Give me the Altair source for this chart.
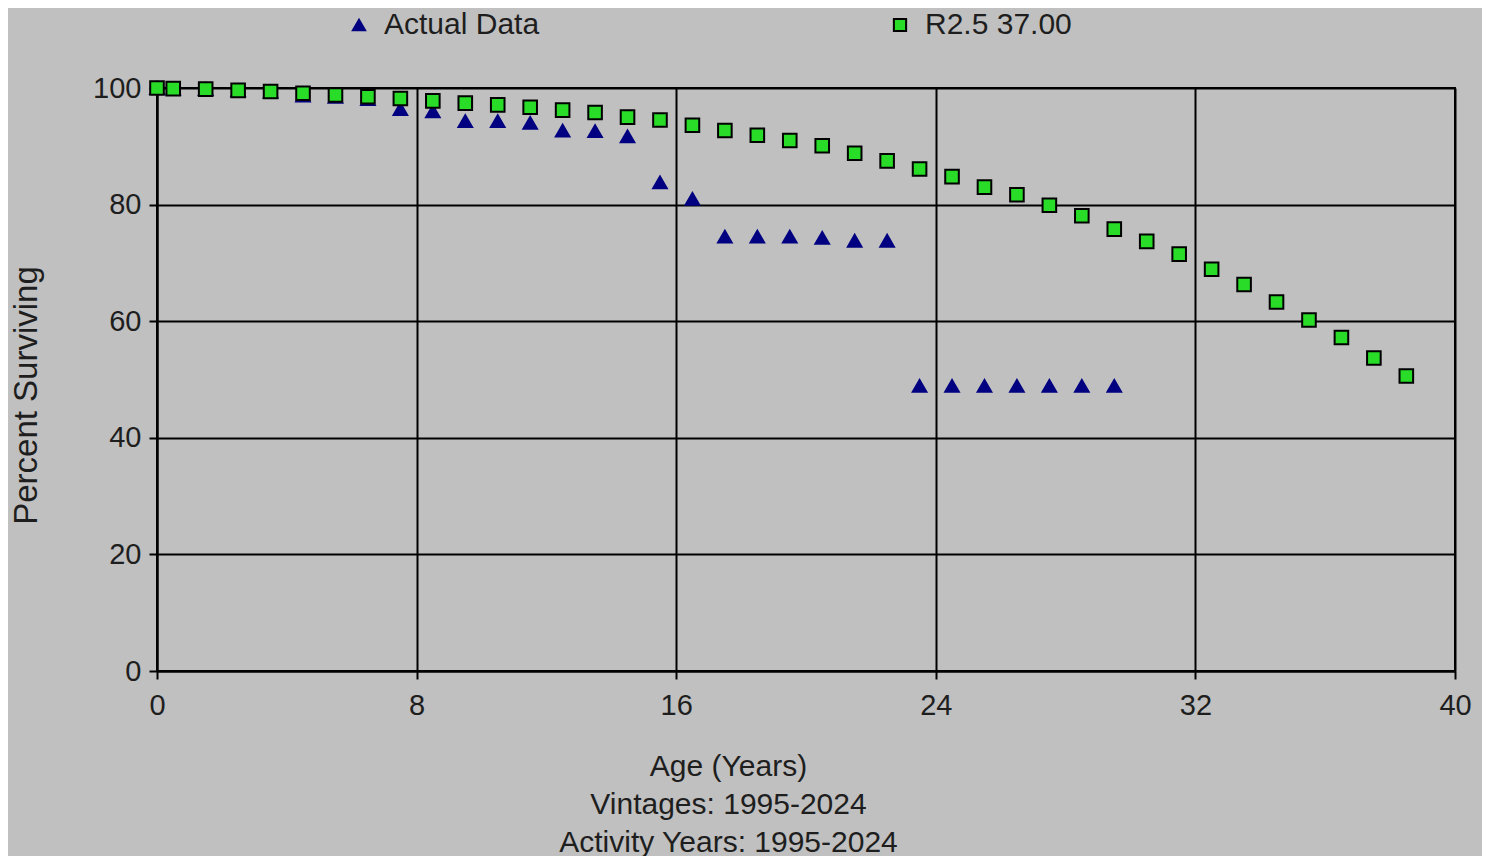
import altair as alt
import pandas as pd

# ---- data ----
actual_age = [0, 0.5, 1.5, 2.5, 3.5, 4.5, 5.5, 6.5, 7.5, 8.5, 9.5, 10.5, 11.5, 12.5, 13.5,
              14.5, 15.5, 16.5, 17.5, 18.5, 19.5, 20.5, 21.5, 22.5, 23.5, 24.5, 25.5,
              26.5, 27.5, 28.5, 29.5]
actual_pct = [100.0, 99.9, 99.8, 99.6, 99.4, 98.7, 98.5, 98.1, 96.4, 96.0, 94.3, 94.3, 94.0,
              92.7, 92.6, 91.7, 83.8, 81.0, 74.5, 74.5, 74.5, 74.3, 73.8, 73.8, 48.9, 48.9,
              48.9, 48.9, 48.9, 48.9, 48.9]

model_age = [0, 0.5, 1.5, 2.5, 3.5, 4.5, 5.5, 6.5, 7.5, 8.5, 9.5, 10.5, 11.5, 12.5, 13.5,
             14.5, 15.5, 16.5, 17.5, 18.5, 19.5, 20.5, 21.5, 22.5, 23.5, 24.5, 25.5, 26.5,
             27.5, 28.5, 29.5, 30.5, 31.5, 32.5, 33.5, 34.5, 35.5, 36.5, 37.5, 38.5]
model_pct = [100.0, 99.9, 99.8, 99.6, 99.4, 99.1, 98.8, 98.5, 98.2, 97.8, 97.4, 97.1, 96.7,
             96.2, 95.8, 95.0, 94.5, 93.6, 92.7, 91.9, 91.0, 90.1, 88.8, 87.5, 86.1, 84.8,
             83.0, 81.7, 79.9, 78.1, 75.8, 73.7, 71.5, 68.9, 66.3, 63.3, 60.2, 57.2, 53.7,
             50.6]

series_names = ["Actual Data", "R2.5 37.00"]
x_ticks = [0, 8, 16, 24, 32, 40]
y_ticks = [0, 20, 40, 60, 80, 100]
x_title = ["Age (Years)", "Vintages: 1995-2024", "Activity Years: 1995-2024"]
y_title = "Percent Surviving"

df = pd.concat([
    pd.DataFrame({"age": actual_age, "pct": actual_pct, "series": series_names[0]}),
    pd.DataFrame({"age": model_age, "pct": model_pct, "series": series_names[1]}),
], ignore_index=True)

FONT = "Liberation Sans"
TXT = "#1e1e1e"
BG = "#C0C0C0"

legend = alt.Legend(title=None, orient="none", direction="horizontal",
                    legendX=187, legendY=-78, columnPadding=345,
                    labelFontSize=30, labelFont=FONT, labelColor=TXT,
                    labelOffset=10, symbolSize=150, symbolStrokeWidth=2)

points = alt.Chart(df).mark_point(filled=True, strokeWidth=2, opacity=1, size=185).encode(
    x=alt.X("age:Q",
            scale=alt.Scale(domain=[0, 40], nice=False, zero=False),
            axis=alt.Axis(values=x_ticks, title=x_title, grid=True,
                          gridColor="black", gridWidth=2, gridOpacity=1,
                          domainColor="black", domainWidth=2,
                          tickColor="black", tickWidth=2, tickSize=8,
                          labelPadding=12, labelFontSize=29, labelFont=FONT,
                          labelColor=TXT, labelFlush=False,
                          titleFontSize=30, titleFont=FONT, titleColor=TXT,
                          titleFontWeight="normal", titleLineHeight=38,
                          titleX=571, titleY=80, titleAlign="center",
                          titleBaseline="top", titleAnchor="start")),
    y=alt.Y("pct:Q",
            scale=alt.Scale(domain=[0, 100], nice=False),
            axis=alt.Axis(values=y_ticks, title=y_title, grid=True,
                          gridColor="black", gridWidth=2, gridOpacity=1,
                          domainColor="black", domainWidth=2,
                          tickColor="black", tickWidth=2, tickSize=8,
                          labelPadding=8, labelFontSize=29, labelFont=FONT,
                          labelColor=TXT,
                          titleFontSize=33, titleFont=FONT, titleColor=TXT,
                          titleFontWeight="normal", titleAngle=270,
                          titleX=-131, titleY=307, titleAlign="center",
                          titleBaseline="middle", titleAnchor="start")),
    shape=alt.Shape("series:N",
                    scale=alt.Scale(domain=series_names, range=["triangle-up", "square"]),
                    legend=legend),
    color=alt.Color("series:N",
                    scale=alt.Scale(domain=series_names, range=["#000080", "#28dc28"]),
                    legend=legend),
    stroke=alt.Stroke("series:N",
                      scale=alt.Scale(domain=series_names, range=["#000080", "#000000"]),
                      legend=legend),
)

chart = points.properties(
    width=1298, height=583,
    background=BG,
    autosize=alt.AutoSizeParams(type="none"),
    padding={"left": 149, "top": 80, "right": 27, "bottom": 185},
).configure_view(
    fill=BG, stroke="black", strokeWidth=2
)

chart.save("out.html", embed_options={"renderer": "svg", "actions": False})
